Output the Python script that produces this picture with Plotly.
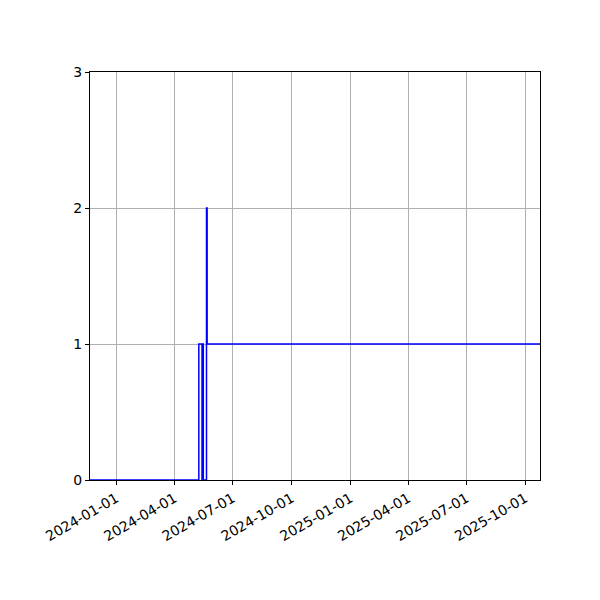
import plotly.graph_objects as go

# step changes (value holds until the next date)
dates = ["2023-11-21", "2024-05-09", "2024-05-14", "2024-05-15", "2024-05-16",
         "2024-05-21", "2024-05-22", "2025-10-24"]
values = [0, 1, 0, 1, 0, 2, 1, 1]

x_ticks = ["2024-01-01", "2024-04-01", "2024-07-01", "2024-10-01",
           "2025-01-01", "2025-04-01", "2025-07-01", "2025-10-01"]
y_ticks = [0, 1, 2, 3]

fig = go.Figure()
fig.add_trace(go.Scatter(
    x=dates,
    y=values,
    mode="lines",
    line=dict(color="blue", width=1.5, shape="hv"),
    showlegend=False,
))

axis_style = dict(
    showline=True,
    linecolor="black",
    linewidth=1,
    mirror=True,
    ticks="outside",
    ticklen=4,
    tickcolor="black",
    showgrid=True,
    gridcolor="#b0b0b0",
    gridwidth=1,
    zeroline=False,
    layer="below traces",
)

# the page body adds 8px, so margins are shifted to keep the axes box in place
fig.update_layout(
    width=600,
    height=600,
    paper_bgcolor="white",
    plot_bgcolor="white",
    margin=dict(l=82, r=68, t=64, b=128),
    font=dict(family="DejaVu Sans", size=14, color="black"),
    xaxis=dict(
        type="date",
        range=[dates[0], dates[-1]],
        tickvals=x_ticks,
        ticktext=x_ticks,
        tickangle=-30,
        **axis_style,
    ),
    yaxis=dict(
        range=[0, 3],
        tickvals=y_ticks,
        **axis_style,
    ),
)

fig.write_html("out.html")
